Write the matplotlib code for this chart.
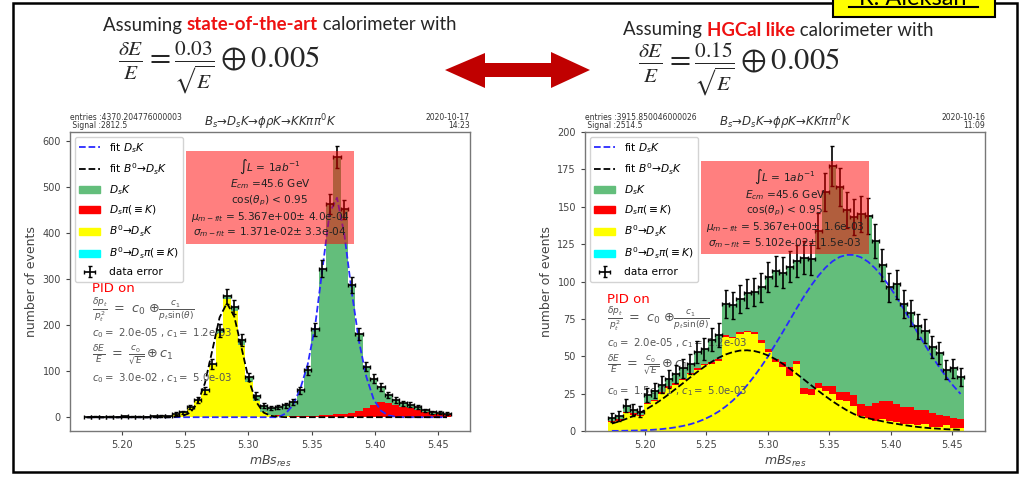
import numpy as np
import matplotlib
matplotlib.use("Agg")
from matplotlib import pyplot as plt
from matplotlib.patches import Rectangle, Polygon, Patch
from matplotlib.lines import Line2D

W, H = 1022, 478

# binning of mBs_res
mass_lo, mass_hi, n_bins = 5.17, 5.46, 50

# ---- left: state-of-the-art calorimeter ----
left_yellow = [0, 1, 0, 1, 0, 2, 1, 1, 0, 2, 3, 2,
               7, 10, 21, 35, 57, 113, 184, 256, 230, 157, 77, 35, 12, 5, 3, 2, 1, 1,
               0, 0, 0, 0, 0, 0, 0, 0, 0, 0, 0, 0, 0, 0, 0, 0, 0, 0, 0, 0]
left_red = [0] * 26 + [1, 1, 2, 2, 3, 3, 4, 5, 6, 8, 10, 14, 20, 27, 33, 31, 26, 22,
                       19, 15, 11, 8, 7, 6]
left_green = [0] * 12 + [1, 1, 1, 2, 2, 3, 5, 7, 10, 10, 10, 12, 13, 14, 18, 23, 30, 56,
                         99, 188, 319, 458, 560, 444, 277, 167, 90, 57, 33, 17, 11, 8,
                         8, 7, 4, 3, 3, 2]
left_cyan = [0] * 50
left_fit_ds = [0] * 27 + [8, 26, 62, 114, 196, 320, 444, 477, 398, 274, 165, 88, 39, 14,
                          4, 1, 0, 0, 0, 0, 0, 0, 0]
left_fit_b0 = [0] * 12 + [1, 3, 10, 31, 74, 145, 217, 248, 219, 150, 80, 33, 10, 3, 1] + [0] * 23

# ---- right: HGCal like calorimeter ----
right_yellow = [6, 7, 12, 11, 10, 18, 20, 25, 29, 31, 34, 38, 41, 44, 45, 47, 63, 62, 65, 66,
                65, 59, 53, 46, 43, 37, 45, 25, 24, 29, 27, 25, 21, 20, 17, 10, 9, 7, 8, 7,
                6, 5, 5, 4, 5, 3, 3, 4, 2, 2]
right_red = [1] * 21 + [2, 2, 2, 3, 6, 2, 4, 4, 3, 3, 5, 5, 6, 7, 8, 8, 12, 12, 13, 12,
                        11, 11, 10, 9, 9, 8, 6, 7, 6]
right_green = [2, 2, 4, 2, 2, 5, 6, 5, 5, 6, 7, 6, 11, 10, 15, 16, 21, 21, 22, 25,
               27, 35, 48, 59, 60, 67, 67, 87, 87, 102, 130, 147, 137, 122, 119, 127, 127, 108, 91, 76,
               80, 69, 63, 56, 53, 44, 41, 31, 33, 28]
right_cyan = [0] * 50
right_fit_ds = [0.1, 0.1, 0.2, 0.3, 0.4, 0.6, 0.9, 1.3, 1.8, 2.5, 3.4, 4.5, 6.0, 7.9, 10.2,
                13.0, 16.4, 20.4, 25.1, 30.6, 36.6, 43.2, 50.3, 58.2, 66.1, 74.2, 82.3, 90.1,
                97.3, 103.7, 109.2, 113.5, 116.4, 117.8, 117.8, 116.2, 113.2, 108.8, 103.3,
                96.8, 89.5, 81.7, 73.6, 65.5, 57.5, 49.9, 42.7, 36.1, 30.1, 24.8]
right_fit_b0 = [5.0, 6.4, 8.1, 10.0, 12.3, 15.0, 17.9, 21.1, 24.6, 28.3, 32.0, 35.8, 39.5,
                43.0, 46.2, 49.0, 51.2, 52.8, 53.8, 54.0, 53.5, 52.3, 50.4, 48.0, 45.0, 41.7,
                38.1, 34.4, 30.6, 26.9, 23.3, 19.9, 16.8, 13.9, 11.4, 9.3, 8.5, 7.5, 6.5, 5.5,
                4.8, 4.0, 3.3, 2.7, 2.2, 1.8, 1.5, 1.2, 1.0, 0.8]

left_info = ["entries :4370.204776000003\n Signal :2812.5", "2020-10-17\n14:23",
             "5.367e+00", "4.0e-04", "1.371e-02", "3.3e-04", "3.0e-02"]
right_info = ["entries :3915.850046000026\n Signal :2514.5", "2020-10-16\n11:09",
              "5.367e+00", "1.6e-03", "5.102e-02", "1.5e-03", "1.5e-01"]

edges = np.linspace(mass_lo, mass_hi, n_bins + 1)
centers = 0.5 * (edges[1:] + edges[:-1])
bw = edges[1] - edges[0]

GREEN = '#63be7b'
GREY = '#555555'
BLUE = '#2a2aff'


def fx(x):
    return x / W


def fy(y):
    return 1 - y / H


def panel(ax, yellow, red, green, cyan, fit_ds, fit_b0, info, xlim, ylim, yticks, txt_y):
    yellow, red, green, cyan = map(np.array, (yellow, red, green, cyan))
    total = yellow + red + green + cyan
    ax.bar(centers, yellow, width=bw, color='yellow', lw=0, zorder=2)
    ax.bar(centers, red, width=bw, bottom=yellow, color='red', lw=0, zorder=2)
    ax.bar(centers, green, width=bw, bottom=yellow + red, color=GREEN, lw=0, zorder=2)
    ax.bar(centers, cyan, width=bw, bottom=yellow + red + green, color='cyan', lw=0, zorder=2)
    ax.plot(centers, fit_ds, '--', color=BLUE, lw=1.3, zorder=3)
    ax.plot(centers, fit_b0, '--', color='k', lw=1.3, zorder=3)
    eb = ax.errorbar(centers, total, yerr=np.sqrt(total), xerr=bw / 2, fmt='none',
                     ecolor='k', elinewidth=1.2, capsize=1.5, zorder=4)

    handles = [Line2D([], [], ls='--', color=BLUE, lw=1.3),
               Line2D([], [], ls='--', color='k', lw=1.3),
               Patch(color=GREEN), Patch(color='red'), Patch(color='yellow'),
               Patch(color='cyan'), eb]
    labels = ['fit $D_sK$', 'fit $B^0$→$D_sK$', '$D_sK$', r'$D_s\pi(\equiv K)$',
              '$B^0$→$D_sK$', r'$B^0$→$D_s\pi(\equiv K)$', 'data error']
    ax.legend(handles, labels, loc='upper left', fontsize=7.7, labelspacing=0.6,
              handlelength=2.0, borderaxespad=0.45, framealpha=0.85)

    box = (r"$\int L$ = 1$ab^{-1}$" + "\n" + r"$E_{cm}$ =45.6 GeV" + "\n"
           + r"cos($\theta_p$) < 0.95" + "\n"
           + r"$\mu_{m-fit}$ = " + info[2] + r"$\pm$ " + info[3] + "\n"
           + r"$\sigma_{m-fit}$ = " + info[4] + r"$\pm$ " + info[5])
    ax.text(0.5, txt_y[5], box, transform=ax.transAxes, ha='center', va='center',
            fontsize=7.6, linespacing=1.2, color='#222222', zorder=6,
            bbox=dict(facecolor='red', alpha=0.5, edgecolor='none', pad=3.5))

    ax.text(0.055, txt_y[0], 'PID on', color='red', fontsize=9.5, transform=ax.transAxes,
            va='center', zorder=3.5)
    ax.text(0.055, txt_y[1], r"$\frac{\delta p_t}{p_t^2}$ $=$ $c_0$ $\oplus\frac{c_1}{p_t \sin(\theta)}$",
            color=GREY, fontsize=9.2, transform=ax.transAxes, va='center', zorder=3.5)
    ax.text(0.055, txt_y[2], r"$c_0 =$ 2.0e-05 , $c_1 =$ 1.2e-03",
            color=GREY, fontsize=7.3, transform=ax.transAxes, va='center', zorder=3.5)
    ax.text(0.055, txt_y[3], r"$\frac{\delta E}{E}$ $=$ $\frac{c_0}{\sqrt{E}} \oplus c_1$",
            color=GREY, fontsize=9.2, transform=ax.transAxes, va='center', zorder=3.5)
    ax.text(0.055, txt_y[4], r"$c_0 =$ " + info[6] + r" , $c_1 =$ 5.0e-03",
            color=GREY, fontsize=7.3, transform=ax.transAxes, va='center', zorder=3.5)

    ax.text(0, 1.006, info[0], transform=ax.transAxes, fontsize=5.5, ha='left',
            va='bottom', linespacing=0.9, color='#333333')
    ax.text(1, 1.006, info[1], transform=ax.transAxes, fontsize=5.5, ha='right',
            va='bottom', linespacing=0.9, color='#333333', multialignment='right')
    ax.set_title(r"$B_s$→$D_sK$→$\phi\rho K$→$KK\pi\pi^0K$", fontsize=8.5, pad=2,
                 color='#333333')

    ax.set_xlim(*xlim)
    ax.set_ylim(*ylim)
    ax.set_yticks(yticks)
    ax.set_xticks([5.20, 5.25, 5.30, 5.35, 5.40, 5.45])
    ax.tick_params(labelsize=7, colors='#444444', length=3)
    ax.set_xlabel('$mBs_{res}$', fontsize=9, color='#444444', labelpad=3)
    ax.set_ylabel('number of events', fontsize=9, color='#444444', labelpad=3)
    for s in ax.spines.values():
        s.set_color('#777777')
        s.set_linewidth(1.0)


fig = plt.figure(figsize=(W / 100, H / 100), dpi=100)
fig.patch.set_facecolor('white')

ax1 = fig.add_axes([fx(70), fy(431), 400 / W, 299 / H])
ax2 = fig.add_axes([fx(585), fy(431), 400 / W, 299 / H])

panel(ax1, left_yellow, left_red, left_green, left_cyan, left_fit_ds, left_fit_b0,
      left_info, (5.159, 5.4753), (-30, 620), range(0, 601, 100),
      [0.478, 0.402, 0.328, 0.252, 0.178, 0.778])
panel(ax2, right_yellow, right_red, right_green, right_cyan, right_fit_ds, right_fit_b0,
      right_info, (5.151, 5.477), (0, 200), range(0, 201, 25),
      [0.441, 0.372, 0.295, 0.220, 0.135, 0.744])

# slide frame and decorations
fig.add_artist(Rectangle((fx(13), fy(472)), 1004 / W, 469 / H, fill=False,
                         lw=1.8, ec='black', transform=fig.transFigure))
fig.add_artist(Rectangle((fx(833), fy(17)), 162 / W, 30 / H, fc='yellow',
                         lw=1.5, ec='black', transform=fig.transFigure))
fig.text(fx(913), fy(5), 'R. Aleksan', ha='center', va='baseline', fontsize=17,
         family='Lato')
fig.add_artist(Line2D([fx(849), fx(978)], [fy(7), fy(7)], color='black', lw=1.5,
                      transform=fig.transFigure))

arrow = [(445, 70), (485, 53), (485, 63), (551, 63), (551, 52), (590, 70),
         (551, 88), (551, 77), (485, 77), (485, 88)]
fig.add_artist(Polygon([(fx(a), fy(b)) for a, b in arrow], closed=True,
                       fc='#c00000', ec='none', transform=fig.transFigure))

renderer = fig.canvas.get_renderer()


def header(runs, x0, y0):
    x = fx(x0)
    for txt, col, wt in runs:
        t = fig.text(x, fy(y0), txt, color=col, fontweight=wt, fontsize=13.4,
                     family='Lato', va='center', ha='left')
        x = t.get_window_extent(renderer=renderer).x1 / W


header([("Assuming ", '#262626', 'normal'), ("state-of-the-art", '#ee1111', 'bold'),
        (" calorimeter with", '#262626', 'normal')], 103, 25)
header([("Assuming ", '#262626', 'normal'), ("HGCal like", '#ee1111', 'bold'),
        (" calorimeter with", '#262626', 'normal')], 623, 30)

fig.text(fx(118), fy(67), r"$\frac{\delta E}{E} = \frac{0.03}{\sqrt{E}} \oplus 0.005$",
         fontsize=22, math_fontfamily='stix', va='center', ha='left', color='#262626')
fig.text(fx(638), fy(70), r"$\frac{\delta E}{E} = \frac{0.15}{\sqrt{E}} \oplus 0.005$",
         fontsize=22, math_fontfamily='stix', va='center', ha='left', color='#262626')

fig.savefig('out.png', dpi=100)
